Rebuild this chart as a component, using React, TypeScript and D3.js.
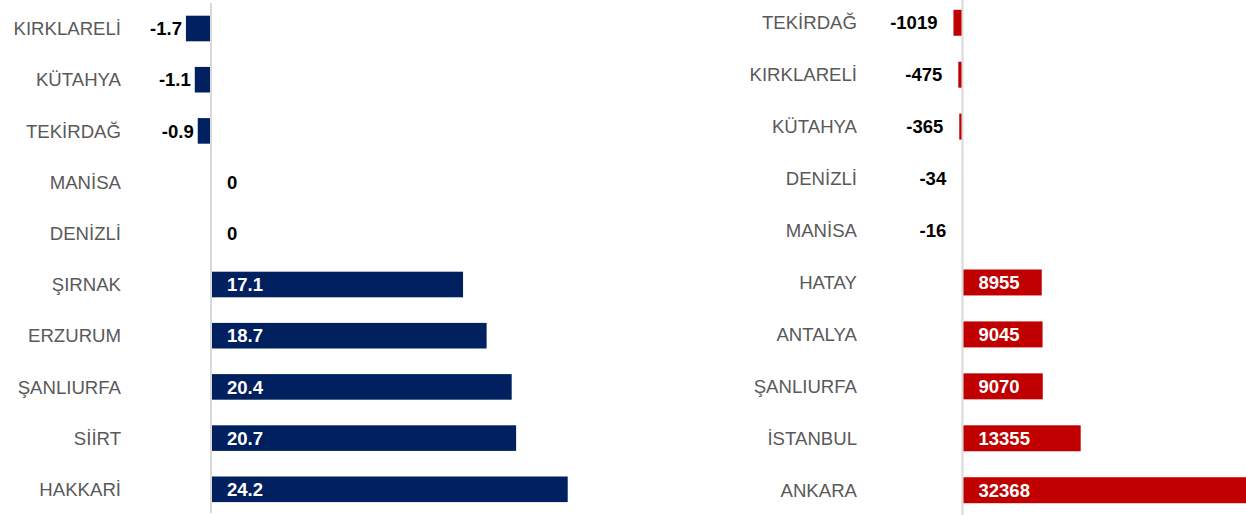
import React from 'react';
import * as d3 from 'd3';

const leftCategories = ['KIRKLARELİ', 'KÜTAHYA', 'TEKİRDAĞ', 'MANİSA', 'DENİZLİ', 'ŞIRNAK', 'ERZURUM', 'ŞANLIURFA', 'SİİRT', 'HAKKARİ'];
const leftValues = [-1.7, -1.1, -0.9, 0, 0, 17.1, 18.7, 20.4, 20.7, 24.2];
const leftLabels = ['-1.7', '-1.1', '-0.9', '0', '0', '17.1', '18.7', '20.4', '20.7', '24.2'];

const rightCategories = ['TEKİRDAĞ', 'KIRKLARELİ', 'KÜTAHYA', 'DENİZLİ', 'MANİSA', 'HATAY', 'ANTALYA', 'ŞANLIURFA', 'İSTANBUL', 'ANKARA'];
const rightValues = [-1019, -475, -365, -34, -16, 8955, 9045, 9070, 13355, 32368];
const rightLabels = ['-1019', '-475', '-365', '-34', '-16', '8955', '9045', '9070', '13355', '32368'];

const W = 1246;
const H = 515;
const FONT = "'Liberation Sans', Arial, sans-serif";

type PanelProps = {
  cats: string[];
  vals: number[];
  labels: string[];
  x: d3.ScaleLinear<number, number>;
  y: d3.ScaleBand<string>;
  color: string;
  catX: number;
  negGap: number;
  lineTop: number;
  lineBottom: number;
};

function Panel({ cats, vals, labels, x, y, color, catX, negGap, lineTop, lineBottom }: PanelProps) {
  const x0 = x(0);
  return (
    <g>
      <line x1={x0} x2={x0} y1={lineTop} y2={lineBottom} stroke="#d9d9d9" strokeWidth={2} />
      {cats.map((c, i) => {
        const v = vals[i];
        const yc = (y(c) as number) + y.bandwidth() / 2;
        return (
          <g key={c}>
            <text x={catX} y={yc} dy="0.36em" textAnchor="end" fontFamily={FONT} fontSize={18.6} fill="#595959">{c}</text>
            {v !== 0 && (
              <rect x={v > 0 ? x0 + 1 : x(v)} y={y(c)} width={v > 0 ? x(v) - x0 - 1 : x0 - 1 - x(v)} height={y.bandwidth()} fill={color} />
            )}
            {v < 0 ? (
              <text x={x(v) - negGap} y={yc} dy="0.36em" textAnchor="end" fontFamily={FONT} fontSize={18.5} fontWeight="bold" fill="#000">{labels[i]}</text>
            ) : (
              <text x={x0 + 16} y={yc} dy="0.36em" textAnchor="start" fontFamily={FONT} fontSize={18.5} fontWeight="bold" fill={v > 0 ? '#fff' : '#000'}>{labels[i]}</text>
            )}
          </g>
        );
      })}
    </g>
  );
}

export default function App() {
  const yLeft = d3.scaleBand<string>().domain(leftCategories).range([2.9, 514.9]).paddingInner(0.5).paddingOuter(0.25);
  const yRight = d3.scaleBand<string>().domain(rightCategories).range([-3.2, 516.2]).paddingInner(0.5).paddingOuter(0.25);
  const xLeft = d3.scaleLinear().domain([0, 24.2]).range([211, 211 + 24.2 * 14.74]);
  const xRight = d3.scaleLinear().domain([0, 32368]).range([962.5, 962.5 + 32368 * 0.00885]);
  return (
    <div style={{ position: 'absolute', left: 0, top: 0, width: W, height: H, background: '#fff' }}>
      <svg width={W} height={H} style={{ display: 'block' }}>
        <rect width={W} height={H} fill="#fff" />
        <Panel cats={leftCategories} vals={leftValues} labels={leftLabels} x={xLeft} y={yLeft} color="#002060" catX={121} negGap={4} lineTop={3} lineBottom={513} />
        <Panel cats={rightCategories} vals={rightValues} labels={rightLabels} x={xRight} y={yRight} color="#C00000" catX={857} negGap={16} lineTop={0} lineBottom={515} />
      </svg>
    </div>
  );
}
